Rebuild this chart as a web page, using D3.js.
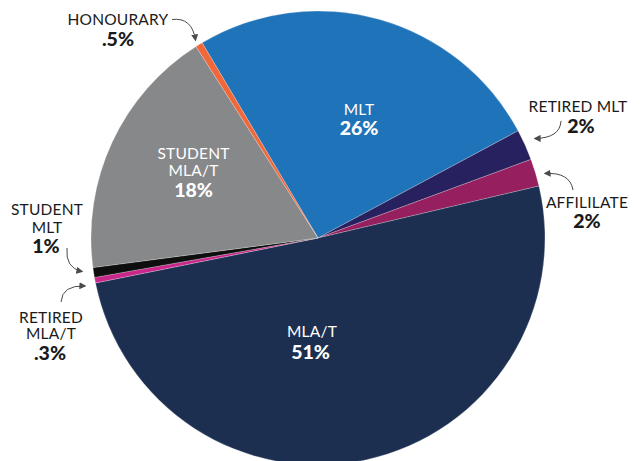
<!DOCTYPE html>
<html>
<head>
<meta charset="utf-8">
<script src="https://cdn.jsdelivr.net/npm/d3@7"></script>
<style>
  html, body { margin: 0; padding: 0; background: #ffffff; }
  svg { display: block; }
</style>
</head>
<body>
<svg id="chart" width="642" height="461"></svg>
<script>
// ---- data ----
const categories = ["MLT", "RETIRED MLT", "AFFILILATE", "MLA/T", "RETIRED MLA/T", "STUDENT MLT", "STUDENT MLA/T", "HONOURARY"];
const values     = [25.7, 2.2, 1.95, 50.5, 0.4, 0.7, 18.05, 0.5];
const valueLabels = ["26%", "2%", "2%", "51%", ".3%", "1%", "18%", ".5%"];
const nameLines = [["MLT"], ["RETIRED MLT"], ["AFFILILATE"], ["MLA/T"], ["RETIRED", "MLA/T"], ["STUDENT", "MLT"], ["STUDENT", "MLA/T"], ["HONOURARY"]];
const colors = ["#1f73b8", "#28215f", "#961f5f", "#1c2f51", "#c9288a", "#0e0e0e", "#87888a", "#f0673a"];

// ---- layout (styles / positions) ----
const W = 642, H = 461;
const cx = 318, cy = 238, R = 227;
const startDeg = -30.7;
// label placement: x, first baseline y, line gap, gap before value, inside?
const labelLayout = [
  {x: 359, y: 114.5, lg: 17, vg: 20.5, inside: true},
  {x: 578, y: 111.5, lg: 17, vg: 21.5, inside: false, vx: 581},
  {x: 587, y: 208.3, lg: 17, vg: 20, inside: false},
  {x: 312, y: 336.7, lg: 17, vg: 22, inside: true, vx: 310.5},
  {x: 51,  y: 322.7, lg: 16.6, vg: 20.7, inside: false, vx: 50},
  {x: 47,  y: 215, lg: 17.7, vg: 20.5, inside: false, vx: 46},
  {x: 193.5, y: 159.3, lg: 16.7, vg: 20.5, inside: true},
  {x: 118, y: 25, lg: 17, vg: 21, inside: false}
];
// annotation arrows: start, control, end
const arrows = [
  [[172, 19.5], [192, 17], [195.5, 40]],
  [[561, 121], [560, 138], [535, 138.5]],
  [[573, 190], [570, 172], [545, 173.5]],
  [[67, 248], [65, 268], [82, 271.5]],
  [[61, 302], [62, 285], [85, 286]]
];

const svg = d3.select("#chart");
const defs = svg.append("defs");
defs.append("marker")
  .attr("id", "ah")
  .attr("viewBox", "0 0 10 10")
  .attr("refX", 8).attr("refY", 5)
  .attr("markerWidth", 7).attr("markerHeight", 7)
  .attr("markerUnits", "userSpaceOnUse")
  .attr("orient", "auto")
  .append("path").attr("d", "M0,0 L10,5 L0,10 Z").attr("fill", "#4a4a4a");

const pie = d3.pie().sort(null).value(d => d)
  .startAngle(startDeg * Math.PI / 180)
  .endAngle(startDeg * Math.PI / 180 + 2 * Math.PI);
const arcs = pie(values);
const arc = d3.arc().innerRadius(0).outerRadius(R);

const g = svg.append("g").attr("transform", `translate(${cx},${cy})`);
g.selectAll("path.slice").data(arcs).join("path")
  .attr("class", "slice")
  .attr("d", arc)
  .attr("fill", (d, i) => colors[i])
  .attr("stroke", "rgba(255,255,255,0.45)")
  .attr("stroke-width", 0.5);

// labels: one text element per slice, lines as tspans
const fontFam = "Lato, 'Open Sans', sans-serif";
categories.forEach((c, i) => {
  const L = labelLayout[i];
  const col = L.inside ? "#ffffff" : "#1a1a1a";
  const lines = nameLines[i];
  const t = svg.append("text")
    .attr("text-anchor", "middle")
    .attr("font-family", fontFam)
    .attr("fill", col);
  lines.forEach((ln, j) => {
    t.append("tspan")
      .attr("x", L.x).attr("y", L.y + j * L.lg)
      .attr("font-size", 15.5)
      .attr("font-weight", 400)
      .attr("letter-spacing", 0.2)
      .text(ln);
  });
  t.append("tspan")
    .attr("x", L.vx !== undefined ? L.vx : L.x)
    .attr("y", L.y + (lines.length - 1) * L.lg + L.vg)
    .attr("font-size", 19.5)
    .attr("font-weight", 900)
    .text(valueLabels[i]);
});

// arrows
arrows.forEach(a => {
  const p = d3.path();
  p.moveTo(a[0][0], a[0][1]);
  p.quadraticCurveTo(a[1][0], a[1][1], a[2][0], a[2][1]);
  svg.append("path")
    .attr("d", p.toString())
    .attr("fill", "none")
    .attr("stroke", "#4a4a4a")
    .attr("stroke-width", 1)
    .attr("marker-end", "url(#ah)");
});
</script>
</body>
</html>
